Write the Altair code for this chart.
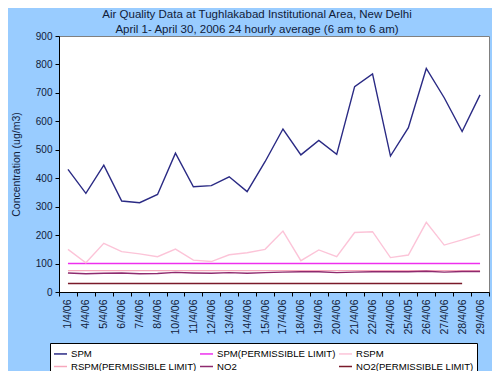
import altair as alt
import pandas as pd

dates = ["1/4/06", "4/4/06", "5/4/06", "6/4/06", "7/4/06", "8/4/06", "10/4/06", "11/4/06",
         "12/4/06", "13/4/06", "14/4/06", "15/4/06", "17/4/06", "18/4/06", "19/4/06", "20/4/06",
         "21/4/06", "22/4/06", "24/4/06", "25/4/05", "26/4/06", "27/4/06", "28/4/06", "29/4/06"]
spm = [431, 347, 446, 320, 314, 343, 488, 370, 374, 405, 353, 458,
       573, 482, 533, 484, 722, 767, 478, 578, 786, 683, 564, 693]
rspm = [150, 103, 171, 142, 134, 124, 151, 112, 107, 131, 138, 150,
        214, 110, 148, 124, 209, 212, 121, 130, 245, 165, 183, 203]
no2 = [67, 64, 66, 67, 64, 65, 69, 67, 66, 68, 66, 68,
       70, 71, 71, 68, 70, 71, 71, 71, 73, 70, 72, 72]
spm_limit = [100] * 24
rspm_limit = [75] * 24
no2_limit = [30] * 23 + [None]

series_names = ["SPM", "SPM(PERMISSIBLE LIMIT)", "RSPM", "RSPM(PERMISSIBLE LIMIT)",
                "NO2", "NO2(PERMISSIBLE LIMIT)"]
series_vals = [spm, spm_limit, rspm, rspm_limit, no2, no2_limit]
series_colors = ["#2a2a84", "#ee30ee", "#fcc4d8", "#f7a8bc", "#8e2a6e", "#7a1a2a"]

# legend fills column by column (2 rows x 3 columns)
legend_order = [0, 3, 1, 4, 2, 5]
domain = [series_names[i] for i in legend_order]
rng = [series_colors[i] for i in legend_order]

rows = []
for name, vals in zip(series_names, series_vals):
    for i, (d, v) in enumerate(zip(dates, vals)):
        if v is not None:
            rows.append({"date": d, "value": v, "series": name, "order": i})
df = pd.DataFrame(rows)

FONT = "Liberation Sans"

chart = alt.Chart(df).mark_line(strokeWidth=1.4).encode(
    x=alt.X("date:N", sort=dates, bandPosition=0.5,
            scale=alt.Scale(type="band", paddingInner=0, paddingOuter=0),
            axis=alt.Axis(title=None, labelAngle=270, labelFontSize=10.5, labelFont=FONT,
                          labelColor="#10203a", tickBand="extent", tickColor="#000000",
                          domainColor="#000000", tickSize=4, labelPadding=3)),
    y=alt.Y("value:Q", scale=alt.Scale(domain=[0, 900], nice=False),
            axis=alt.Axis(title="Concentration (ug/m3)", values=list(range(0, 901, 100)),
                          grid=False, labelFontSize=10, labelFont=FONT, labelColor="#10203a",
                          titleFont=FONT, titleFontSize=10.5, titleFontWeight="normal",
                          titleColor="#10203a", titlePadding=14, tickColor="#000000",
                          domainColor="#000000", tickSize=4, labelPadding=3)),
    color=alt.Color("series:N", scale=alt.Scale(domain=domain, range=rng),
                    legend=alt.Legend(title=None, orient="none", legendX=-9, legendY=307,
                                      columns=3, symbolType="stroke", symbolSize=169,
                                      symbolStrokeWidth=1.5, labelFont=FONT, labelFontSize=9.6,
                                      labelColor="#000000", strokeColor="#000000",
                                      fillColor="#ffffff", padding=3, columnPadding=0,
                                      rowPadding=0, labelOffset=3, labelLimit=200)),
    order="order:Q",
).properties(
    width=430,
    height=256,
    autosize="none",
    padding={"left": 51, "top": 28, "right": 3, "bottom": 79},
    title=alt.Title(["Air Quality Data at Tughlakabad Institutional Area, New Delhi",
                     "April 1- April 30, 2006 24 hourly average (6 am to 6 am)"],
                    font=FONT, fontSize=11.5, fontWeight="normal", color="#10203a",
                    anchor="middle", dx=-17, dy=7, offset=3, lineHeight=15),
).configure(background="#99CCFF").configure_view(stroke="#808080", fill="#ffffff")

chart.save("out.html", embed_options={"renderer": "svg", "actions": False})
